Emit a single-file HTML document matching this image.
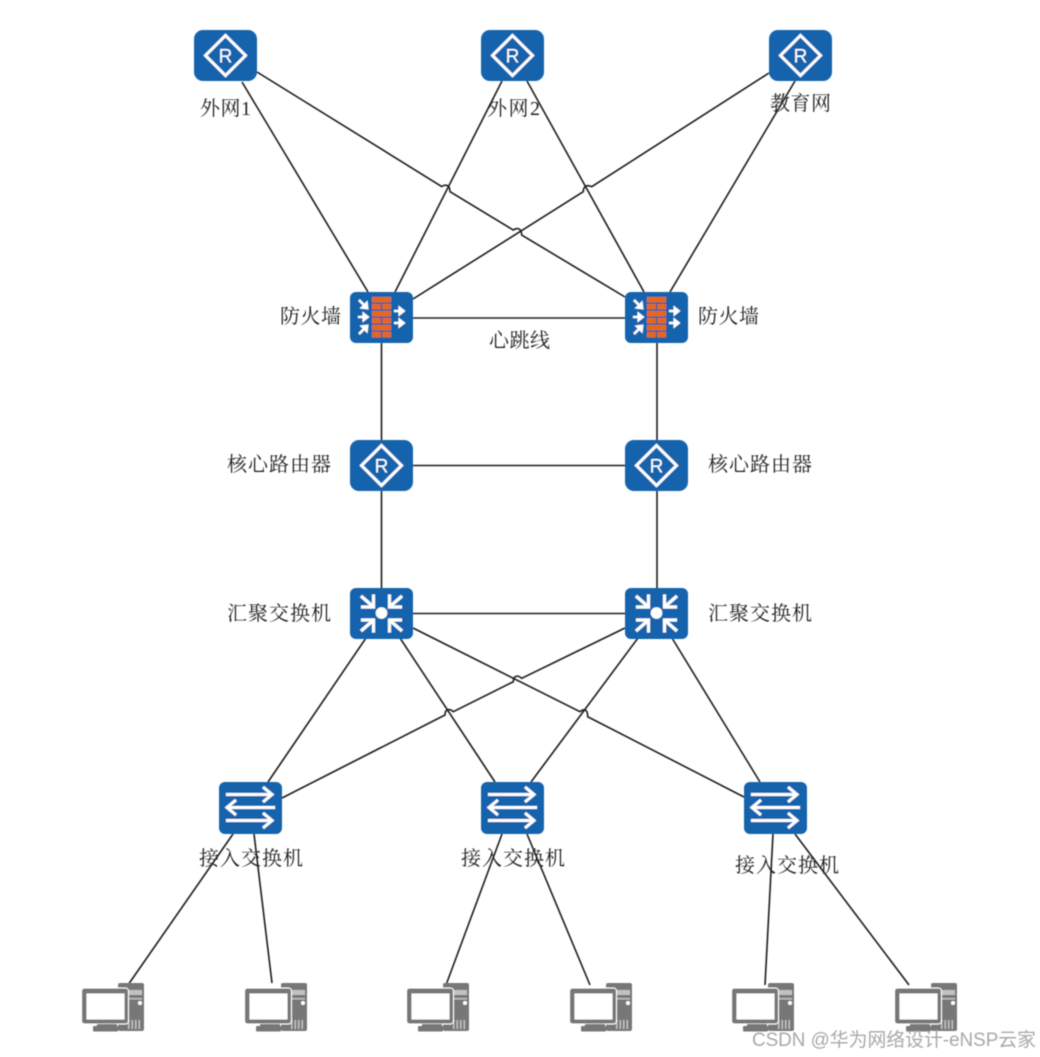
<!DOCTYPE html>
<html lang="zh">
<head>
<meta charset="utf-8">
<title>网络拓扑图</title>
<style>
html,body{margin:0;padding:0;background:#fff;width:1040px;height:1057px;overflow:hidden}
svg{display:block}
text{font-family:"Liberation Serif","Noto Serif CJK SC",serif;font-size:20px;fill:#222}
.wm{font-family:"Liberation Sans","Noto Sans CJK SC",sans-serif;font-size:19px;fill:#a8a8a8}
.l{fill:none;stroke:#1f1f1f;stroke-width:1.6}
</style>
</head>
<body>
<svg width="1040" height="1057" viewBox="0 0 1040 1057" xmlns="http://www.w3.org/2000/svg">
<defs>
<filter id="b" x="-5%" y="-5%" width="110%" height="110%"><feGaussianBlur stdDeviation="0.4"/></filter>
<g id="router">
  <rect x="0" y="0" width="63" height="51" rx="9" fill="#1364ad"/>
  <path d="M31.500 5.500L51.500 25.500L31.500 45.500L11.500 25.500Z" fill="none" stroke="#fff" stroke-width="3"/>
  <text x="31.500" y="32.500" text-anchor="middle" style="font-family:'Liberation Sans',sans-serif;font-size:19px;fill:#fff">R</text>
</g>
<g id="fw">
  <rect x="0" y="0" width="63" height="51" rx="6" fill="#1364ad"/>
  <g fill="#e8661f">
    <rect x="22" y="5" width="19" height="5.400"/>
    <rect x="22" y="12" width="8.800" height="5.400"/><rect x="32.200" y="12" width="8.800" height="5.400"/>
    <rect x="22" y="19" width="19" height="5.400"/>
    <rect x="22" y="26" width="8.800" height="5.400"/><rect x="32.200" y="26" width="8.800" height="5.400"/>
    <rect x="22" y="33" width="19" height="5.400"/>
    <rect x="22" y="40" width="8.800" height="5.400"/><rect x="32.200" y="40" width="8.800" height="5.400"/>
  </g>
  <g fill="none" stroke="#fff" stroke-width="2.400">
    <path d="M9 8L14 13"/>
    <path d="M8 25H14"/>
    <path d="M9 42L14 37"/>
    <path d="M44 19H50"/>
    <path d="M44 31H50"/>
  </g>
  <g fill="#fff">
    <path d="M18.500 17.500L17.500 8.500L9.500 16.500Z"/>
    <path d="M19.500 25L12.500 19.500V30.500Z"/>
    <path d="M18.500 32.500L9.500 33.500L17.500 41.500Z"/>
    <path d="M55.500 19L48.500 13.500V24.500Z"/>
    <path d="M55.500 31L48.500 25.500V36.500Z"/>
  </g>
</g>
<g id="agg">
  <rect x="0" y="0" width="63" height="51" rx="6" fill="#1364ad"/>
  <circle cx="31.500" cy="25" r="5.800" fill="#fff"/>
  <g fill="none" stroke="#fff" stroke-width="3.200">
    <path d="M11 8L23 18.500M23.500 6.500V19H11"/>
    <path d="M52 8L40 18.500M39.500 6.500V19H52"/>
    <path d="M11 43L23 32.500M11 32H23.500V44.500"/>
    <path d="M52 43L40 32.500M52 32H39.500V44.500"/>
  </g>
</g>
<g id="acc">
  <rect x="0" y="0" width="63" height="52" rx="6" fill="#1364ad"/>
  <g fill="none" stroke="#fff" stroke-width="3">
    <path d="M7 12.500H52M44 5L53 12.500L44 20"/>
    <path d="M56 25.500H9M17 18L8 25.500L17 33"/>
    <path d="M7 38.500H52M44 31L53 38.500L44 46"/>
  </g>
</g>
<g id="pc">
  <rect x="37" y="0" width="26" height="48" rx="2" fill="#777"/>
  <rect x="47" y="7" width="14" height="5" fill="#fff" opacity=".55"/>
  <rect x="47" y="15" width="14" height="1.500" fill="#fff" opacity=".55"/>
  <circle cx="59" cy="20" r="2" fill="#fff"/>
  <g fill="#fff" opacity=".55"><rect x="47" y="37" width="1.500" height="9"/><rect x="50.500" y="37" width="1.500" height="9"/><rect x="54" y="37" width="1.500" height="9"/><rect x="57.500" y="37" width="1.500" height="9"/></g>
  <rect x="0.500" y="5" width="47" height="36" rx="3" fill="#777" stroke="#fff" stroke-width="1"/>
  <rect x="5.500" y="10.500" width="38" height="26" fill="#fff"/>
  <rect x="16" y="41" width="20" height="3" fill="#777"/>
  <rect x="12" y="43" width="25" height="5.500" rx="1" fill="#777"/>
</g>
</defs>
<rect width="1040" height="1057" fill="#fff"/>
<g filter="url(#b)">
<!-- connectors -->
<g>
  <path class="l" d="M242 82L368 292"/>
  <path class="l" d="M257 72L441.700 186.500C445 184.500 450 184 450 191.700L513.300 230C516 228 521.500 227 521.700 235L625 297"/>
  <path class="l" d="M502 81L395 292"/>
  <path class="l" d="M527 81L644 292"/>
  <path class="l" d="M769 73L591.700 186.700C588 185 583.500 185 583.300 191.700L413 299"/>
  <path class="l" d="M795 81L670 292"/>
  <path class="l" d="M413 318H625"/>
  <path class="l" d="M381.500 343V440"/>
  <path class="l" d="M657 343V440"/>
  <path class="l" d="M413 465.500H625"/>
  <path class="l" d="M381.500 490V588"/>
  <path class="l" d="M657 490V588"/>
  <path class="l" d="M413 613.500H625"/>
  <path class="l" d="M366 638L268 782"/>
  <path class="l" d="M400 638L495 782"/>
  <path class="l" d="M413 628L580 711.700C583 709 587.700 708 587.700 716.700L744 797"/>
  <path class="l" d="M625 628L521.700 678.300C518 675 513.500 675 513.300 681.700L453.300 711.700C450 708.500 445 708.500 445 715L282 798"/>
  <path class="l" d="M638 638L531 782"/>
  <path class="l" d="M672 638L760 782"/>
  <path class="l" d="M233 834L128 985"/>
  <path class="l" d="M254 834L272 983"/>
  <path class="l" d="M502 834L446 985"/>
  <path class="l" d="M527 834L590 985"/>
  <path class="l" d="M773 834L765 985"/>
  <path class="l" d="M795 834L909 985"/>
</g>
<!-- nodes -->
<use href="#router" x="194" y="30"/>
<use href="#router" x="481" y="30"/>
<use href="#router" x="769" y="30"/>
<use href="#fw" x="350" y="292"/>
<use href="#fw" x="625" y="292"/>
<use href="#router" x="350" y="440"/>
<use href="#router" x="625" y="440"/>
<use href="#agg" x="350" y="588"/>
<use href="#agg" x="625" y="588"/>
<use href="#acc" x="219" y="782"/>
<use href="#acc" x="481" y="782"/>
<use href="#acc" x="744" y="782"/>
<use href="#pc" x="81" y="983"/>
<use href="#pc" x="244" y="983"/>
<use href="#pc" x="406" y="983"/>
<use href="#pc" x="569" y="983"/>
<use href="#pc" x="731" y="983"/>
<use href="#pc" x="894" y="983"/>
<!-- labels -->
<text x="200" y="115" textLength="51" lengthAdjust="spacing">外网1</text>
<text x="487" y="115" textLength="53" lengthAdjust="spacing">外网2</text>
<text x="770" y="110" textLength="61" lengthAdjust="spacing">教育网</text>
<text x="280" y="323" textLength="61" lengthAdjust="spacing">防火墙</text>
<text x="698" y="323" textLength="61" lengthAdjust="spacing">防火墙</text>
<text x="489" y="347" textLength="61" lengthAdjust="spacing">心跳线</text>
<text x="227" y="471" textLength="104" lengthAdjust="spacing">核心路由器</text>
<text x="708" y="471" textLength="104" lengthAdjust="spacing">核心路由器</text>
<text x="227" y="620" textLength="104" lengthAdjust="spacing">汇聚交换机</text>
<text x="708" y="620" textLength="104" lengthAdjust="spacing">汇聚交换机</text>
<text x="199" y="865" textLength="104" lengthAdjust="spacing">接入交换机</text>
<text x="461" y="865" textLength="104" lengthAdjust="spacing">接入交换机</text>
<text x="735" y="872" textLength="104" lengthAdjust="spacing">接入交换机</text>
<text class="wm" x="752" y="1046" textLength="284" lengthAdjust="spacingAndGlyphs">CSDN @华为网络设计-eNSP云家</text>
</g>
</svg>
</body>
</html>
